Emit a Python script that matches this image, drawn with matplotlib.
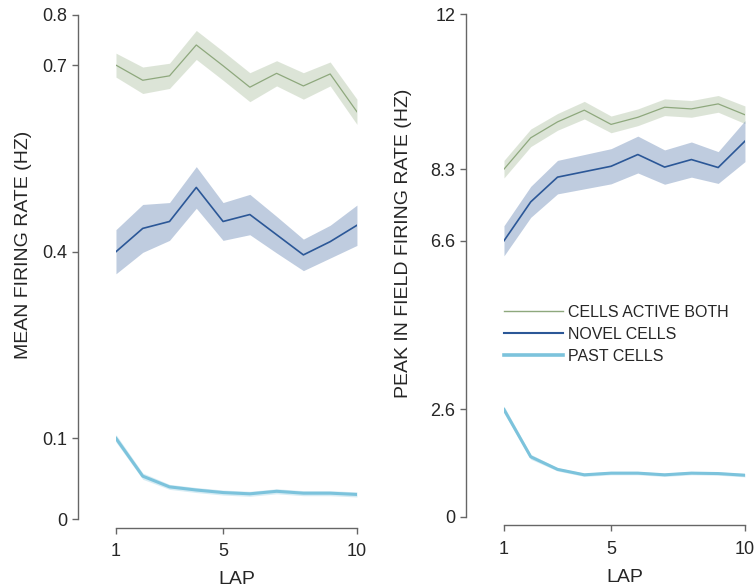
import numpy as np
import matplotlib
matplotlib.use("Agg")
import matplotlib.pyplot as plt

plt.rcParams['font.family'] = ['Liberation Sans', 'DejaVu Sans']

laps = np.arange(1, 11)

# mean firing rate (Hz), mean and sem per lap
mean_both = [0.720, 0.696, 0.703, 0.752, 0.719, 0.685, 0.707, 0.687, 0.706, 0.646]
mean_both_sem = [0.019, 0.021, 0.020, 0.023, 0.023, 0.023, 0.020, 0.021, 0.019, 0.020]
mean_novel = [0.424, 0.461, 0.472, 0.526, 0.472, 0.483, 0.451, 0.419, 0.440, 0.466]
mean_novel_sem = [0.035, 0.038, 0.030, 0.033, 0.030, 0.032, 0.029, 0.025, 0.026, 0.032]
mean_past = [0.128, 0.068, 0.051, 0.046, 0.042, 0.040, 0.044, 0.041, 0.041, 0.039]
mean_past_sem = [0.006, 0.005, 0.004, 0.004, 0.004, 0.004, 0.004, 0.004, 0.004, 0.004]

# peak in field firing rate (Hz)
peak_both = [8.30, 9.05, 9.43, 9.71, 9.37, 9.54, 9.78, 9.74, 9.86, 9.60]
peak_both_sem = [0.21, 0.21, 0.20, 0.21, 0.20, 0.20, 0.20, 0.20, 0.20, 0.21]
peak_novel = [6.59, 7.52, 8.11, 8.24, 8.37, 8.65, 8.35, 8.53, 8.34, 8.97]
peak_novel_sem = [0.36, 0.37, 0.40, 0.41, 0.42, 0.44, 0.41, 0.42, 0.38, 0.49]
peak_past = [2.56, 1.43, 1.13, 1.00, 1.04, 1.04, 1.00, 1.04, 1.03, 0.99]
peak_past_sem = [0.08, 0.06, 0.04, 0.04, 0.04, 0.04, 0.04, 0.04, 0.04, 0.04]

labels = ['CELLS ACTIVE BOTH', 'NOVEL CELLS', 'PAST CELLS']
colors = ['#8ea87d', '#2b5797', '#7cc3dc']
widths = [0.9, 1.2, 2.2]

ink = '#262626'
spine_col = '#666666'


def fmt(v):
    s = '%.1f' % v
    return s[:-2] if s.endswith('.0') else s


def panel(ax, series, ytop, ylabel, label_x):
    for (m, e), c, lw, lab in zip(series, colors, widths, labels):
        m = np.array(m)
        e = np.array(e)
        ax.fill_between(laps, m - e, m + e, color=c, alpha=0.3, lw=0)
        ax.plot(laps, m, color=c, lw=lw, label=lab)
    ax.set_xlim(1, 10)
    ax.set_ylim(0, ytop)
    ax.set_xticks([1, 5, 10])
    # y ticks at the first-lap value of each group
    yt = [0, series[2][0][0], series[1][0][0], series[0][0][0], ytop]
    ax.set_yticks(yt)
    ax.set_yticklabels([fmt(v) for v in yt])
    for s in ['top', 'right']:
        ax.spines[s].set_visible(False)
    ax.spines['left'].set_position(('outward', 27.4))
    ax.spines['bottom'].set_position(('outward', 6.3))
    for s in ['left', 'bottom']:
        ax.spines[s].set_color(spine_col)
        ax.spines[s].set_linewidth(1.0)
    ax.tick_params(direction='out', length=4, width=1.0, color=spine_col,
                   labelsize=13, labelcolor=ink)
    ax.tick_params(axis='x', pad=7)
    ax.tick_params(axis='y', pad=3.5)
    ax.set_xlabel('LAP', fontsize=14, color=ink, labelpad=8)
    ax.set_ylabel(ylabel, fontsize=14, color=ink)
    ax.yaxis.set_label_coords(label_x, 0.544)


fig = plt.figure(figsize=(7.54, 5.88), dpi=100)
ax1 = fig.add_axes([0.1538, 0.1173, 0.3196, 0.8577])
ax2 = fig.add_axes([0.6684, 0.1213, 0.3196, 0.8544])

panel(ax1, [(mean_both, mean_both_sem), (mean_novel, mean_novel_sem),
            (mean_past, mean_past_sem)], 0.8, 'MEAN FIRING RATE (HZ)', -0.349)
panel(ax2, [(peak_both, peak_both_sem), (peak_novel, peak_novel_sem),
            (peak_past, peak_past_sem)], 12, 'PEAK IN FIELD FIRING RATE (HZ)', -0.382)

leg = ax2.legend(loc='upper left', bbox_to_anchor=(0.0, 0.422), frameon=False,
                 fontsize=11.5, handlelength=3.7, handletextpad=0.3,
                 labelspacing=0.45, borderpad=0, borderaxespad=0)
for t in leg.get_texts():
    t.set_color(ink)
for h, lw in zip(leg.get_lines(), [1.0, 1.5, 2.6]):
    h.set_linewidth(lw)

fig.savefig('out.png', dpi=100)
